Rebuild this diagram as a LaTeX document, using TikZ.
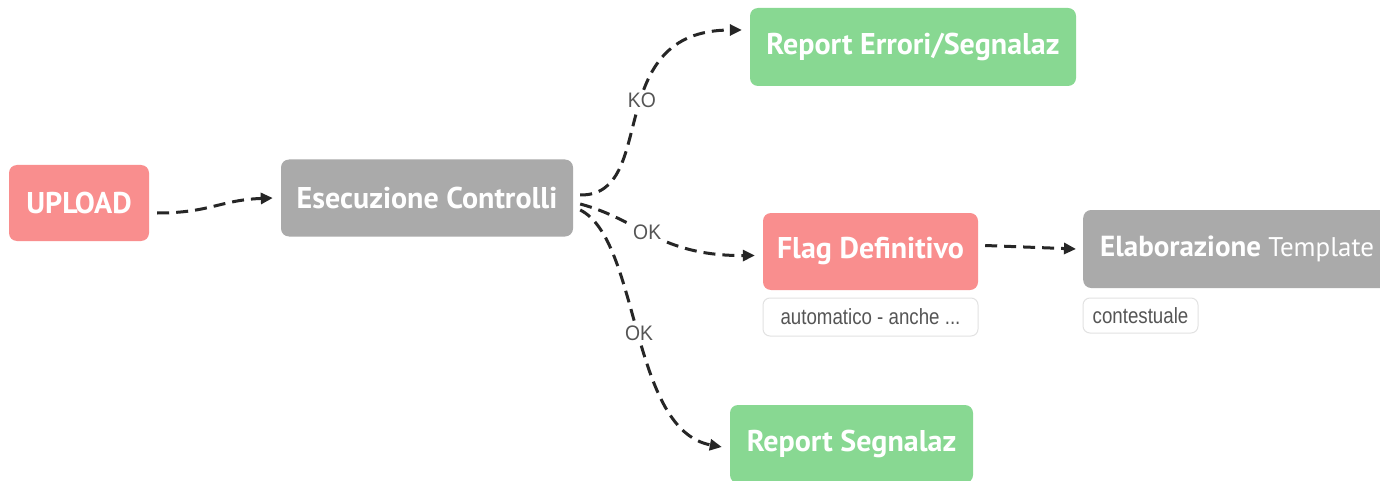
\documentclass[tikz,border=0pt]{standalone}
\usepackage{fontspec}
\setmainfont{PT Sans}
\newfontfamily\lblfont[FakeStretch=0.92]{Liberation Sans}
\newfontfamily\notefont[FakeStretch=0.85]{Liberation Sans}
\usetikzlibrary{arrows.meta}
\definecolor{pinkbox}{HTML}{F98E8E}
\definecolor{graybox}{HTML}{AAAAAA}
\definecolor{greenbox}{HTML}{88D892}
\definecolor{notebd}{HTML}{E2E2E2}
\definecolor{lbl}{HTML}{555555}
\tikzset{
  x=1pt,y=-1pt,
  box/.style={rounded corners=8pt, text=white, font=\fontsize{30}{34}\selectfont\bfseries, inner sep=0pt, align=center},
  pinkn/.style={box, fill=pinkbox},
  grayn/.style={box, fill=graybox},
  greenn/.style={box, fill=greenbox},
  note/.style={rounded corners=7pt, draw=notebd, line width=1pt, fill=white, text=lbl, font=\notefont\fontsize{22}{24}\selectfont, inner sep=0pt},
  conn/.style={draw=black!85, line width=3pt, dash pattern=on 12pt off 7pt, -{Triangle[length=12pt,width=11pt]}},
  elbl/.style={fill=white, text=lbl, font=\lblfont\fontsize{21}{23}\selectfont, inner sep=1pt}
}
\begin{document}
\begin{tikzpicture}
\useasboundingbox (0,0) rectangle (1380,481);
\clip (0,0) rectangle (1380,481);
\fill[white] (0,0) rectangle (1380,481);
\node[pinkn, minimum width=140pt, minimum height=76pt] (up) at (79,203) {UPLOAD};
\node[grayn, minimum width=292pt, minimum height=77pt] (ex) at (427,198) {Esecuzione Controlli};
\node[greenn, minimum width=326pt, minimum height=78pt] (re) at (913,47) {Report Errori/Segnalaz};
\node[pinkn, minimum width=215pt, minimum height=77pt] (fl) at (870.5,251.5) {Flag Definitivo};
\node[grayn, minimum width=310pt, minimum height=78pt, anchor=west] (el) at (1083,249) {};
\node[text=white, anchor=west, inner sep=0pt] (elt) at (1100,249) {\fontsize{29}{34}\selectfont\bfseries Elaborazione \fontsize{27}{32}\selectfont\mdseries Template};
\node[greenn, minimum width=243pt, minimum height=78pt] (rs) at (851.5,444) {Report Segnalaz};
\node[note, minimum width=215pt, minimum height=38pt] (n1) at (870.5,317) {automatico - anche ...};
\node[note, minimum width=115pt, minimum height=35pt] (n2) at (1140.5,315.5) {contestuale};
\coordinate (s0) at ([xshift=8pt,yshift=-10pt]up.east);
\coordinate (s1) at ([xshift=7pt,yshift=3pt]ex.east);
\coordinate (s2) at ([xshift=7pt,yshift=-6pt]ex.east);
\coordinate (s3) at ([xshift=7pt,yshift=-12pt]ex.east);
\draw[conn] (s0) .. controls (210,213) and (220,200) .. ([xshift=-8pt]ex.west);
\draw[conn] (s1) .. controls (660,196) and (600,30) .. ([xshift=-8pt,yshift=17pt]re.west) node[elbl, pos=0.55] {KO};
\draw[conn] (s2) .. controls (640,220) and (660,256) .. ([xshift=-8pt,yshift=-4pt]fl.west) node[elbl, pos=0.45] {OK};
\draw[conn] (s3) .. controls (640,240) and (630,430) .. ([xshift=-8pt,yshift=-3pt]rs.west) node[elbl, pos=0.5] {OK};
\draw[conn] ([xshift=7pt,yshift=6pt]fl.east) -- ([xshift=-7pt]el.west);
\end{tikzpicture}
\end{document}
